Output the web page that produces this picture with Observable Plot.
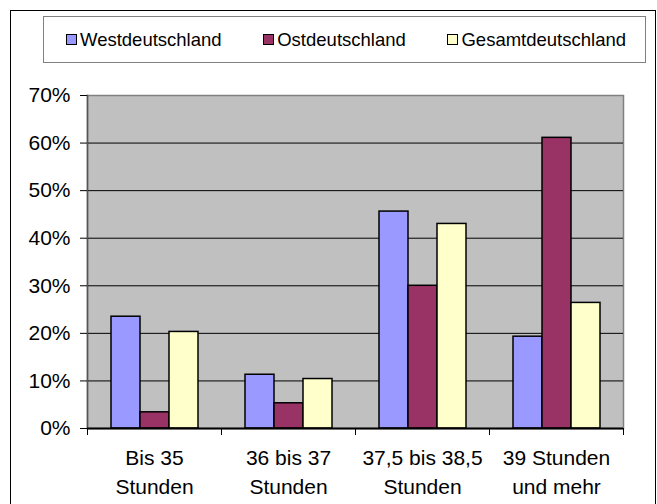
<!DOCTYPE html>
<html>
<head>
<meta charset="utf-8">
<script src="https://cdn.jsdelivr.net/npm/d3@7"></script>
<script src="https://cdn.jsdelivr.net/npm/@observablehq/plot@0.6"></script>
<style>
  html, body { margin: 0; padding: 0; background: #fff; }
  #wrap { position: relative; width: 657px; height: 504px; overflow: hidden; font-family: "Liberation Sans", Arial, sans-serif; }
  #chart { position: absolute; left: 0; top: 0; }
  #chart svg { background: transparent !important; }
  #border { position: absolute; left: 10px; top: 10px; width: 646px; height: 520px; border: 1px solid #000; box-sizing: border-box; pointer-events: none; }
  #legend { position: absolute; left: 43px; top: 16px; width: 603px; height: 47px; box-sizing: border-box;
    border: 1px solid #808080; display: flex; align-items: center; justify-content: space-between;
    padding: 0 19px 0 22px; font-size: 18.5px; color: #000; }
  .item { display: flex; align-items: center; }
  .sw { width: 11px; height: 11px; border: 1.5px solid #000; box-sizing: border-box; margin-right: 3px; }
</style>
</head>
<body>
<div id="wrap">
  <div id="chart"></div>
  <div id="legend"></div>
  <div id="border"></div>
</div>
<script>
const categories = ["Bis 35 Stunden", "36 bis 37 Stunden", "37,5 bis 38,5 Stunden", "39 Stunden und mehr"];
const categoryLabels = ["Bis 35\nStunden", "36 bis 37\nStunden", "37,5 bis 38,5\nStunden", "39 Stunden\nund mehr"];
const seriesNames = ["Westdeutschland", "Ostdeutschland", "Gesamtdeutschland"];
const seriesColors = ["#9999FF", "#993366", "#FFFFCC"];
const west = [23.5, 11.3, 45.6, 19.3];
const ost = [3.4, 5.3, 30.0, 61.1];
const gesamt = [20.3, 10.4, 43.0, 26.4];
const yTicks = [0, 10, 20, 30, 40, 50, 60, 70];

const seriesValues = [west, ost, gesamt];
const data = [];
categories.forEach((c, i) => {
  seriesNames.forEach((s, j) => data.push({cat: c, series: s, value: seriesValues[j][i]}));
});
const labelOf = new Map(categories.map((c, i) => [c, categoryLabels[i]]));

const W = 657, H = 504, mL = 87, mR = 34, mT = 95, mB = 76;
const halfStep = (W - mL - mR) / categories.length / 2;

const chart = Plot.plot({
  width: W, height: H,
  marginLeft: mL, marginRight: mR, marginTop: mT, marginBottom: mB,
  style: {fontFamily: "'Liberation Sans', Arial, sans-serif", background: "transparent", color: "#000"},
  fx: {domain: categories, padding: 0, axis: null, label: null},
  x: {domain: seriesNames, paddingInner: 0, paddingOuter: 0.756, axis: null, label: null},
  y: {domain: [0, 70], axis: null, label: null},
  color: {domain: seriesNames, range: seriesColors},
  marks: [
    Plot.frame({fill: "#C0C0C0", stroke: "#808080", strokeWidth: 1.5, facet: "super"}),
    Plot.ruleY(yTicks.filter(d => d > 0 && d < 70), {stroke: "#000", strokeWidth: 1}),
    Plot.barY(data, {fx: "cat", x: "series", y: "value", fill: "series", stroke: "#000", strokeWidth: 1.5}),
    Plot.frame({anchor: "left", stroke: "#555", strokeWidth: 1.5, facet: "super"}),
    Plot.ruleY([0], {stroke: "#000", strokeWidth: 2}),
    Plot.axisY({ticks: yTicks, tickFormat: d => d + "%", tickSize: 7, tickPadding: 10, fontSize: 21, stroke: "#000", label: null}),
    Plot.axisFx({anchor: "bottom", tickSize: 7, tickFormat: () => "", dx: -halfStep, stroke: "#000", label: null}),
    Plot.axisFx({anchor: "bottom", ticks: [categories[categories.length - 1]], tickSize: 7, tickFormat: () => "", dx: halfStep, stroke: "#000", label: null}),
    Plot.text(categories, {fx: d => d, text: d => labelOf.get(d), frameAnchor: "bottom", lineAnchor: "top", dy: 17, fontSize: 21, lineHeight: 1.34, fill: "#000"})
  ]
});
document.getElementById("chart").appendChild(chart);

const legend = document.getElementById("legend");
seriesNames.forEach((s, i) => {
  const item = document.createElement("div");
  item.className = "item";
  const sw = document.createElement("span");
  sw.className = "sw";
  sw.style.background = seriesColors[i];
  const t = document.createElement("span");
  t.textContent = s;
  item.appendChild(sw);
  item.appendChild(t);
  legend.appendChild(item);
});
</script>
</body>
</html>
